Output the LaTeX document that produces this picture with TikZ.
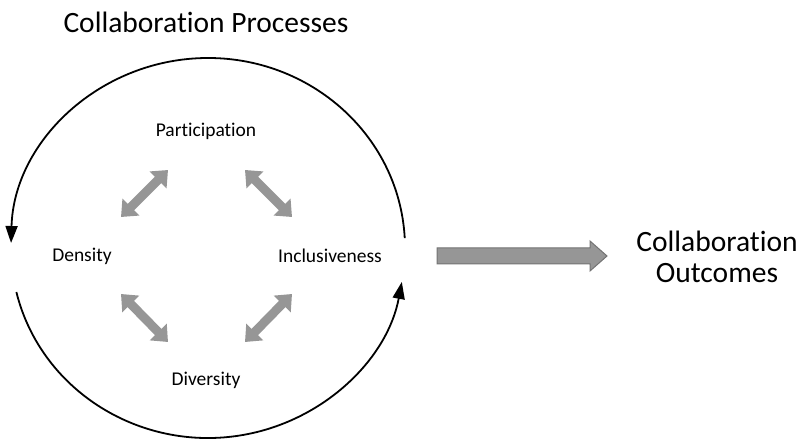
\documentclass[tikz,border=0pt]{standalone}
\usepackage{fontspec}
\setmainfont{Carlito}[Ligatures={NoCommon}]
\usetikzlibrary{arrows.meta,calc}
\definecolor{linkgray}{RGB}{150,150,150}
\definecolor{edgegray}{RGB}{115,115,115}
\begin{document}
\begin{tikzpicture}[x=1pt,y=1pt,
  bigtext/.style={font=\fontsize{29.5}{31}\selectfont, align=center, inner sep=0pt},
  label/.style={font=\fontsize{19.5}{23}\selectfont, inner sep=0pt},
  cyclearc/.style={line width=1.8pt, -{Triangle[length=17pt,width=12pt]}},
  link/.style={draw=linkgray, line width=9pt,
    {Triangle[length=14pt,width=23pt]}-{Triangle[length=14pt,width=23pt]}},
  outarrow/.style={fill=linkgray, draw=edgegray, line width=1pt, line join=miter}]
\useasboundingbox (0,0) rectangle (802,441);

% headings
\node[bigtext] (title) at (206,419) {Collaboration Processes};
\node[bigtext] (outcomes) at (717,184) {Collaboration\\Outcomes};

% the four process labels
\node[label] (part) at (206,310) {Participation};
\node[label] (dens) at (82,185) {Density};
\node[label] (incl) at (330,185) {Inclusiveness};
\node[label] (div)  at (206,61) {Diversity};

% cycle around the processes
\coordinate (ctr) at (208,193);
\draw[cyclearc] ($(ctr)+(3:197 and 190)$) arc[start angle=3, end angle=178.5, x radius=197, y radius=190];
\draw[cyclearc] ($(ctr)+(193.4:197 and 190)$) arc[start angle=193.4, end angle=349.7, x radius=197, y radius=190];

% two-way links between the processes
\coordinate (ulA) at (121,224); \coordinate (ulB) at (168,271);
\coordinate (urA) at (245,271); \coordinate (urB) at (292,224);
\coordinate (llA) at (121,147); \coordinate (llB) at (168,99);
\coordinate (lrA) at (245,99);  \coordinate (lrB) at (292,147);
\draw[link] (ulA) -- (ulB);
\draw[link] (urA) -- (urB);
\draw[link] (llA) -- (llB);
\draw[link] (lrA) -- (lrB);

% block arrow towards the outcomes
\coordinate (outS) at (437,185);
\coordinate (outT) at (607,185);
\draw[outarrow] ($(outS)+(0,8)$) -- (590,193) -- (590,200) -- (outT) -- (590,170) -- (590,177) -- ($(outS)+(0,-8)$) -- cycle;
\end{tikzpicture}
\end{document}
